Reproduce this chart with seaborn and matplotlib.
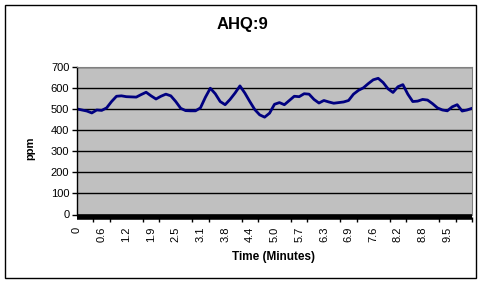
import numpy as np
import matplotlib
matplotlib.use("Agg")
import matplotlib.pyplot as plt
import seaborn as sns
from matplotlib.patches import Rectangle
from matplotlib.ticker import FixedLocator, MultipleLocator

# ---- data ----
ppm_values = [500, 495, 490, 481, 495, 493, 505, 535, 560, 562,
              558, 557, 556, 568, 579, 562, 547, 560, 570, 562,
              535, 503, 492, 491, 491, 505, 555, 598, 572, 535,
              520, 545, 575, 609, 575, 535, 497, 472, 461, 480,
              522, 530, 520, 540, 560, 558, 572, 570, 545, 528,
              540, 533, 527, 530, 533, 540, 570, 588, 600, 620,
              638, 645, 625, 595, 578, 605, 615, 570, 535, 537,
              545, 542, 525, 505, 495, 491, 510, 520, 490, 495,
              503]
tick_labels = ["0", "0.6", "1.2", "1.9", "2.5", "3.1", "3.8", "4.4",
               "5.0", "5.7", "6.3", "6.9", "7.6", "8.2", "8.8", "9.5"]
label_every = 5          # samples between labelled categories
title = "AHQ:9"
x_title = "Time (Minutes)"
y_title = "ppm"

FONT = ["Liberation Sans", "DejaVu Sans"]
plt.rcParams["font.family"] = FONT

fig = plt.figure(figsize=(4.85, 2.88), dpi=100)
fig.patch.set_facecolor("white")
ax = fig.add_axes([77 / 485, 1 - 214.5 / 288, 395 / 485, 147.8 / 288])
ax.set_facecolor("#C0C0C0")

idx = np.arange(len(ppm_values))
sns.lineplot(x=idx, y=ppm_values, ax=ax, color="#000080", linewidth=2.0)

ax.set_xlim(0, len(ppm_values) - 1)
ax.set_ylim(0, 700)
ax.yaxis.set_major_locator(MultipleLocator(100))
ax.yaxis.grid(True, color="black", linewidth=1)
ax.xaxis.grid(False)
ax.set_axisbelow(True)

ax.xaxis.set_major_locator(FixedLocator(list(range(0, len(tick_labels) * label_every, label_every))))
ax.set_xticklabels(tick_labels)
ax.xaxis.set_minor_locator(MultipleLocator(10 / 3))
ax.tick_params(axis="x", which="major", length=0, pad=7, labelsize=8, labelrotation=90)
ax.tick_params(axis="x", which="minor", length=3.3, width=1, color="black", direction="out")
ax.tick_params(axis="y", which="major", length=3.5, width=1, pad=2, labelsize=8, direction="out")

for side in ("top", "right"):
    ax.spines[side].set_color("#808080")
    ax.spines[side].set_linewidth(0.8)
ax.spines["left"].set_color("black")
ax.spines["left"].set_linewidth(1)
ax.spines["bottom"].set_color("black")
ax.spines["bottom"].set_linewidth(4)
ax.spines["bottom"].set_position(("outward", 2))
ax.spines["bottom"].set_capstyle("butt")

ax.set_xlabel("")
ax.set_ylabel("")

fig.text(242 / 485, 1 - 25 / 288, title, ha="center", va="center",
         fontsize=12, fontweight="bold", family=FONT)
fig.text(274 / 485, 1 - 257 / 288, x_title, ha="center", va="center",
         fontsize=8.5, fontweight="bold", family=FONT)
fig.text(30 / 485, 1 - 148 / 288, y_title, ha="center", va="center",
         rotation=90, fontsize=8, fontweight="bold", family=FONT)

fig.add_artist(Rectangle((5 / 485, 1 - 278 / 288), 471 / 485, 273 / 288,
                         transform=fig.transFigure, fill=False,
                         edgecolor="black", linewidth=1))

fig.savefig("out.png", dpi=100, facecolor="white")
